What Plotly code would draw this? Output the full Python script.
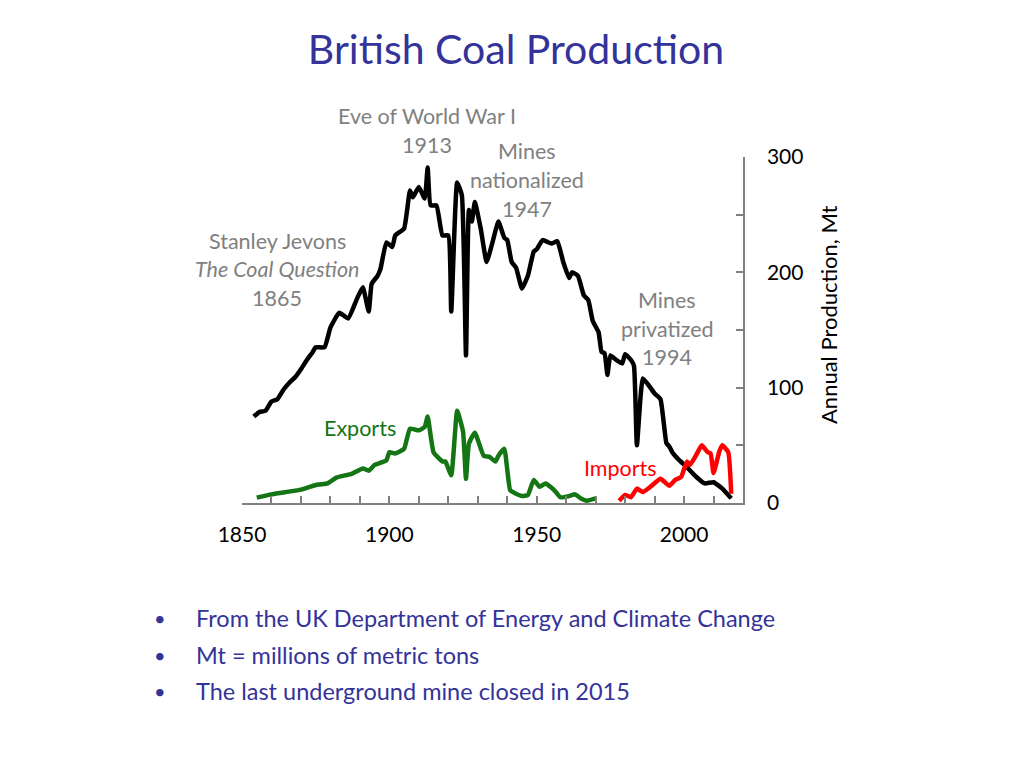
import plotly.graph_objects as go

# ---- data ----
prod_years = [1854, 1856, 1858, 1860, 1862, 1864, 1866, 1868, 1870, 1872, 1874, 1875, 1878,
              1880, 1883, 1886, 1889, 1891, 1893, 1894, 1896, 1897, 1899, 1901, 1902, 1905,
              1907, 1908, 1910, 1912, 1913, 1914, 1916, 1918, 1920, 1921, 1923, 1924.6, 1926,
              1927, 1928, 1929, 1931, 1933, 1935, 1937, 1939, 1940, 1941.5, 1943, 1945, 1947,
              1949, 1950, 1952, 1955, 1957, 1959, 1961, 1962, 1964, 1966, 1967.5, 1969, 1971,
              1972, 1973, 1974, 1975, 1977, 1979, 1980, 1982, 1983, 1984, 1986, 1988, 1990,
              1992, 1994, 1995, 1996, 1998, 2001, 2004, 2007, 2010, 2013, 2016]
prod_values = [75, 79, 80, 88, 90, 98, 104, 109, 116, 124, 131, 135, 135,
               152, 165, 160, 177, 187, 166, 190, 197, 203, 226, 222, 232, 238,
               271, 265, 274, 264, 291, 258, 258, 232, 232, 166, 278, 267, 128,
               254, 244, 261, 238, 209, 226, 244, 230, 228, 209, 204, 186, 197,
               218, 220, 228, 225, 227, 209, 195, 200, 197, 180, 176, 158, 148,
               131, 130, 111, 128, 124, 121, 129, 124, 119, 50, 108, 102, 95,
               90, 52, 49, 44, 38, 31, 23, 17, 18, 12.5, 4]

exp_years = [1855, 1860, 1865, 1870, 1873, 1876, 1879, 1882, 1885, 1887, 1891, 1893, 1895,
             1899, 1900, 1902, 1905, 1907, 1910, 1912, 1913, 1915, 1918, 1919, 1921, 1923,
             1925, 1926, 1927, 1929, 1932, 1934, 1936, 1937, 1939, 1941, 1943, 1945, 1947,
             1949, 1951, 1953, 1956, 1958, 1961, 1963, 1965, 1967, 1970]
exp_values = [4.7, 7.5, 9.5, 11.6, 14, 16, 17, 22, 24, 25, 30, 28, 33,
              37, 44, 43, 47, 64.5, 63, 66, 75, 44, 36, 36, 24, 80,
              62, 21, 51.5, 61, 41, 40, 36, 41, 47, 11, 8, 6, 7,
              20, 14, 17, 11, 5, 6, 7.5, 4, 2, 4]

imp_years = [1978, 1980, 1982, 1984, 1986, 1989, 1992, 1995, 1997, 1999, 2001, 2002, 2004,
             2006, 2008, 2009, 2010, 2012, 2013, 2015, 2016]
imp_values = [2, 7, 5, 12.5, 9.5, 15, 21, 15, 20, 22.5, 36, 33, 41,
              50, 44, 43, 26, 45, 50, 44, 8]

x_tick_vals = list(range(1850, 2020, 10))
x_tick_text = ["1850", "", "", "", "", "1900", "", "", "", "", "1950", "", "", "", "", "2000", ""]
y_tick_vals = [0, 50, 100, 150, 200, 250, 300]
y_tick_text = ["0", "", "100", "", "200", "", "300"]

title_text = "British Coal Production"
y_title = "Annual Production, Mt"
bullets = ["From the UK Department of Energy and Climate Change",
           "Mt = millions of metric tons",
           "The last underground mine closed in 2015"]

# ---- figure ----
FONT = "Lato, 'Open Sans', sans-serif"
GRAY = "#808080"
BLUE = "#333399"
GREEN = "#137513"
RED = "#ff0000"

fig = go.Figure()
fig.add_trace(go.Scatter(x=prod_years, y=prod_values, mode="lines",
                         line=dict(color="black", width=4.5, shape="spline", smoothing=0.4),
                         hoverinfo="skip"))
fig.add_trace(go.Scatter(x=exp_years, y=exp_values, mode="lines",
                         line=dict(color=GREEN, width=4.5, shape="spline", smoothing=0.4),
                         hoverinfo="skip"))
fig.add_trace(go.Scatter(x=imp_years, y=imp_values, mode="lines",
                         line=dict(color=RED, width=4.5, shape="spline", smoothing=0.4),
                         hoverinfo="skip"))

# page has an 8px body margin; figure is 1016x760 placed at (8, 8)
OFF = 8
FW, FH = 1016, 760
PL, PR, PT, PB = 242, 743, 157, 503   # plot area on the page
L, T = PL - OFF, PT - OFF
W, H = PR - PL, PB - PT
R, B = FW - L - W, FH - T - H


def px(X):
    return (X - PL) / W


def py(Y):
    return (PB - Y) / H


ann = []


def add(text, X, Y, color=GRAY, size=21.5, xanchor="center", italic=False):
    ann.append(dict(text=f"<i>{text}</i>" if italic else text, x=px(X), y=py(Y),
                    xref="paper", yref="paper", xanchor=xanchor, yanchor="middle",
                    showarrow=False, font=dict(family=FONT, size=size, color=color)))


add("Eve of World War I", 427, 116)
add("1913", 427, 145)
add("Mines", 527, 151)
add("nationalized", 527, 180)
add("1947", 527, 209)
add("Stanley Jevons", 277, 241)
add("The Coal Question", 277, 269, italic=True)
add("1865", 277, 298)
add("Mines", 667, 300)
add("privatized", 667, 329)
add("1994", 667, 357)
add("Exports", 360, 428, color=GREEN)
add("Imports", 620, 468, color=RED)

for b, Y in zip(bullets, [618, 655, 691]):
    add("•", 160, Y, color=BLUE, size=20)
    add(b, 194, Y, color=BLUE, size=23.5, xanchor="left")

ann.append(dict(text=y_title, x=px(828), y=py(315), xref="paper", yref="paper",
                textangle=-90, showarrow=False, xanchor="center", yanchor="middle",
                font=dict(family=FONT, size=22, color="black")))

fig.update_layout(
    width=FW, height=FH,
    margin=dict(l=L, r=R, t=T, b=B, autoexpand=False),
    paper_bgcolor="white", plot_bgcolor="white",
    showlegend=False,
    title=dict(text=title_text, x=0.5, xref="container", y=1 - (50 - OFF) / FH,
               yref="container", xanchor="center", yanchor="middle",
               font=dict(family=FONT, size=41, color=BLUE)),
    annotations=ann,
    xaxis=dict(range=[1850, 2020], tickvals=x_tick_vals, ticktext=x_tick_text,
               ticks="inside", ticklen=7, tickwidth=1.5, tickcolor=GRAY,
               showline=True, linecolor=GRAY, linewidth=1.5, showgrid=False,
               zeroline=False, ticklabelstandoff=12,
               tickfont=dict(family=FONT, size=21, color="black")),
    yaxis=dict(range=[0, 300], side="right", tickvals=y_tick_vals, ticktext=y_tick_text,
               ticks="inside", ticklen=7, tickwidth=1.5, tickcolor=GRAY,
               showline=True, linecolor=GRAY, linewidth=1.5, showgrid=False,
               zeroline=False, ticklabelstandoff=18,
               tickfont=dict(family=FONT, size=21, color="black")),
)

fig.write_html("out.html")
